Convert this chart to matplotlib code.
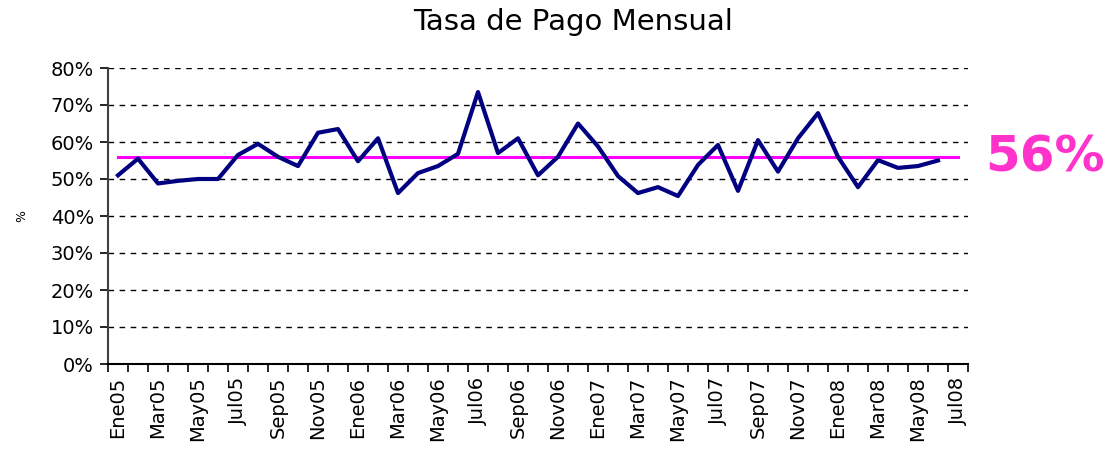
import matplotlib
matplotlib.use("Agg")
import matplotlib.pyplot as plt
import numpy as np

months = ["Ene", "Feb", "Mar", "Abr", "May", "Jun", "Jul", "Ago", "Sep", "Oct", "Nov", "Dic"]
categories = [f"{m}{y:02d}" for y in (5, 6, 7, 8) for m in months][:43]  # Ene05 .. Jul08

tasa = [51.0, 55.5, 48.8, 49.5, 50.0, 50.0, 56.5, 59.5, 56.0, 53.5,
        62.5, 63.5, 54.8, 61.0, 46.2, 51.6, 53.5, 56.8, 73.5, 57.0,
        61.0, 51.0, 56.0, 65.0, 58.8, 50.8, 46.2, 47.8, 45.4, 53.8,
        59.2, 46.8, 60.5, 52.0, 61.0, 67.8, 56.0, 47.8, 55.1, 53.0,
        53.5, 55.0]
promedio = 56.0
yticks = [0, 10, 20, 30, 40, 50, 60, 70, 80]

plt.rcParams['font.family'] = ['DejaVu Sans']

fig = plt.figure(figsize=(11.11, 4.55), dpi=100)
ax = fig.add_axes([108/1111, 1 - 364/455, 860/1111, 296/455])

x = np.arange(len(tasa))
ax.plot(x, tasa, color="#000080", lw=3.0, solid_joinstyle="round", zorder=4)
xm = np.arange(len(categories))
ax.plot(xm, [promedio] * len(categories), color="#FF00FF", lw=2.2, zorder=3)

ax.set_xlim(-0.5, len(categories) - 0.5)
ax.set_ylim(0, 80)
ax.set_yticks(yticks)
ax.set_yticklabels([f"{v}%" for v in yticks], fontsize=14)
for v in yticks[1:]:
    ax.axhline(v, color="black", lw=1.0, ls=(0, (4, 4)), zorder=1)

ax.set_xticks(xm[::2])
ax.set_xticklabels(categories[::2], rotation=90, fontsize=14)
ax.tick_params(axis="x", which="major", length=0, pad=9)
ax.set_xticks(np.arange(len(categories) + 1) - 0.5, minor=True)
ax.tick_params(axis="x", which="minor", length=6, width=1.2, direction="out")
ax.tick_params(axis="y", length=6, width=1.2, direction="out", pad=4)

for s in ["top", "right"]:
    ax.spines[s].set_visible(False)
ax.spines["left"].set_color("#404040")
ax.spines["left"].set_linewidth(1.5)
ax.spines["bottom"].set_linewidth(1.5)

ax.set_ylabel("%", fontsize=9, labelpad=16)
fig.text(573/1111, 1 - 22/455, "Tasa de Pago Mensual", ha="center", va="center",
         fontsize=21)
fig.text(985/1111, 1 - 158/455, f"{promedio:.0f}%", ha="left", va="center",
         fontsize=36, fontweight="bold", color="#FF33CC")

fig.savefig("out.png", dpi=100)
